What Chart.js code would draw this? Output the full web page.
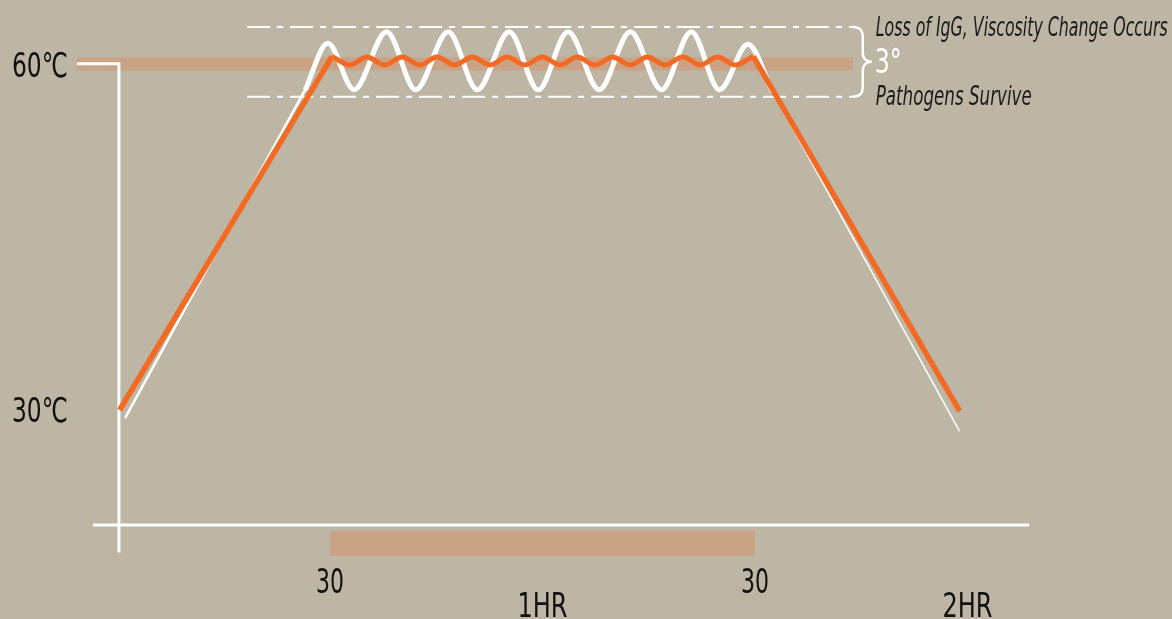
<!DOCTYPE html>
<html>
<head>
<meta charset="utf-8">
<script src="https://cdn.jsdelivr.net/npm/chart.js@4/dist/chart.umd.min.js"></script>
<style>
  html, body { margin: 0; padding: 0; background: #bdb6a5; }
  #wrap { width: 1172px; height: 619px; position: relative; }
</style>
</head>
<body>
<div id="wrap"><canvas id="pasteurChart"></canvas></div>
<script>
// x = minutes, y = degrees C

const xTickValues = [30, 60, 90, 120];
const xTickLabels = ['30', '1HR', '30', '2HR'];
const yTickValues = [30, 60];
const yTickLabels = ['30℃', '60℃'];

// orange line - ramp up, hold, ramp down
const orangeRiseX = [0.3, 30.3];
const orangeRiseY = [30.0, 60.75];
const orangeHoldX = [30.3, 32.8, 35.2, 37.7, 40.2, 42.7, 45.1, 47.6, 50.1, 52.6, 55.0, 57.5, 60.0,
                     62.5, 64.9, 67.4, 69.9, 72.4, 74.8, 77.3, 79.8, 82.3, 84.7, 87.2, 89.75];
const orangeHoldY = [60.75, 60.0, 60.7, 60.0, 60.7, 60.0, 60.7, 60.0, 60.7, 60.0, 60.7, 60.0, 60.7,
                     60.0, 60.7, 60.0, 60.7, 60.0, 60.7, 60.0, 60.7, 60.0, 60.7, 60.0, 60.75];
const orangeFallX = [89.75, 118.9];
const orangeFallY = [60.75, 29.9];

// white line - wide temperature swing (thin on the ramps)
const whiteRiseX = [1.06, 26.5];
const whiteRiseY = [29.3, 57.85];
const whiteWaveX = [26.5, 29.7, 33.4, 38.0, 42.1, 46.7, 50.8, 55.3, 59.4, 63.6, 68.0, 72.4, 76.8, 81.0, 85.0, 89.0, 92.5];
const whiteWaveY = [57.85, 61.9, 57.85, 62.9, 57.85, 62.9, 57.85, 62.9, 57.85, 62.9, 57.85, 62.9, 57.85, 62.9, 57.85, 61.8, 57.65];
const whiteFallX = [92.5, 118.87];
const whiteFallY = [57.65, 28.17];

// limits (dash-dot) and target band
const limitX = [18.3, 103.8];
const upperLimit = 63.3;
const lowerLimit = 57.25;
const targetBandX = [-5.7, 103.8];
const targetTemp = 60.1;
const holdBarX = [30, 90];
const holdBarY = 18.4;

// axis frame
const xAxisX = [-3.45, 128.7];
const xAxisY = 20;
const yAxisX = [-5.7, 0.2, 0.2];
const yAxisY = [60.1, 60.1, 17.6];

const topNote = 'Loss of IgG, Viscosity Change Occurs';
const midNote = '3°';
const lowNote = 'Pathogens Survive';

const pts = (xs, ys) => xs.map((x, i) => ({ x: x, y: ys[i] }));
const flat = (xs, v) => xs.map(x => ({ x: x, y: v }));

const ORANGE = '#f26a24';
const WHITE = '#ffffff';
const TAN = '#caa386';
const FONT = '"Liberation Sans Narrow", "DejaVu Sans Condensed", "Roboto Condensed", Roboto, sans-serif';

const textPlugin = {
    id: 'textPlugin',
    afterDraw(chart) {
        const ctx = chart.ctx;
        const x = chart.scales.x;
        const y = chart.scales.y;
        ctx.save();

        // y labels
        ctx.fillStyle = '#111';
        ctx.font = '34px ' + FONT;
        ctx.textAlign = 'right';
        ctx.textBaseline = 'alphabetic';
        yTickValues.forEach((v, i) => {
            ctx.fillText(yTickLabels[i], 68, y.getPixelForValue(v) + 12, 56);
        });

        // x labels, hour marks sit one row lower
        ctx.textAlign = 'center';
        xTickValues.forEach((v, i) => {
            const lbl = xTickLabels[i];
            const hr = lbl.indexOf('HR') >= 0;
            ctx.fillText(lbl, x.getPixelForValue(v), hr ? 617 : 593, hr ? 50 : 28);
        });

        // brace at the right end of the limit lines
        const bx = x.getPixelForValue(limitX[1]);
        const yT = y.getPixelForValue(upperLimit);
        const yB = y.getPixelForValue(lowerLimit);
        const yM = (yT + yB) / 2;
        ctx.strokeStyle = WHITE;
        ctx.lineWidth = 2.5;
        ctx.beginPath();
        ctx.moveTo(bx, yT);
        ctx.bezierCurveTo(bx + 7, yT, bx + 10, yT + 3, bx + 10, yT + 10);
        ctx.lineTo(bx + 10, yM - 9);
        ctx.bezierCurveTo(bx + 10, yM - 3, bx + 14, yM, bx + 19, yM);
        ctx.bezierCurveTo(bx + 14, yM, bx + 10, yM + 3, bx + 10, yM + 9);
        ctx.lineTo(bx + 10, yB - 10);
        ctx.bezierCurveTo(bx + 10, yB - 3, bx + 7, yB, bx, yB);
        ctx.stroke();

        // notes
        const tx = bx + 23;
        ctx.textAlign = 'left';
        ctx.fillStyle = '#1a1a1a';
        ctx.font = 'italic 27px ' + FONT;
        ctx.fillText(topNote, tx, 36, 292);
        ctx.fillText(lowNote, tx, 105, 156);
        ctx.fillStyle = WHITE;
        ctx.font = '33px ' + FONT;
        ctx.fillText(midNote, tx - 1, 73, 27);

        ctx.restore();
    }
};

const base = { pointRadius: 0, fill: false, tension: 0, borderCapStyle: 'butt' };

new Chart(document.getElementById('pasteurChart'), {
    type: 'line',
    data: {
        datasets: [
            { ...base, data: pts(orangeRiseX, orangeRiseY), borderColor: ORANGE, borderWidth: 5.5, order: 1 },
            { ...base, data: pts(orangeHoldX, orangeHoldY), borderColor: ORANGE, borderWidth: 5, cubicInterpolationMode: 'monotone', order: 1 },
            { ...base, data: pts(orangeFallX, orangeFallY), borderColor: ORANGE, borderWidth: 5.5, order: 1 },
            { ...base, data: pts(whiteRiseX, whiteRiseY), borderColor: WHITE, borderWidth: 2.5, order: 3 },
            { ...base, data: pts(whiteWaveX, whiteWaveY), borderColor: WHITE, borderWidth: 5, cubicInterpolationMode: 'monotone', order: 3 },
            { ...base, data: pts(whiteFallX, whiteFallY), borderColor: WHITE, borderWidth: 1.5, order: 3 },
            { ...base, data: flat(limitX, upperLimit), borderColor: WHITE, borderWidth: 2, borderDash: [23, 7, 6, 7], order: 4 },
            { ...base, data: flat(limitX, lowerLimit), borderColor: WHITE, borderWidth: 2, borderDash: [23, 7, 6, 7], order: 4 },
            { ...base, data: flat(xAxisX, xAxisY), borderColor: WHITE, borderWidth: 3.2, order: 5 },
            { ...base, data: pts(yAxisX, yAxisY), borderColor: WHITE, borderWidth: 3, borderJoinStyle: 'miter', order: 5 },
            { ...base, data: flat(holdBarX, holdBarY), borderColor: TAN, borderWidth: 25, order: 8 },
            { ...base, data: flat(targetBandX, targetTemp), borderColor: TAN, borderWidth: 13.4, order: 9 }
        ]
    },
    options: {
        responsive: true,
        maintainAspectRatio: false,
        animation: false,
        events: [],
        layout: { padding: { left: 4.17, right: 6.17, top: 7.5, bottom: 2 } },
        plugins: { legend: { display: false }, tooltip: { enabled: false } },
        scales: {
            x: { type: 'linear', min: -16, max: 148, display: false },
            y: { type: 'linear', min: 12, max: 65, display: false }
        }
    },
    plugins: [textPlugin]
});
</script>
</body>
</html>
